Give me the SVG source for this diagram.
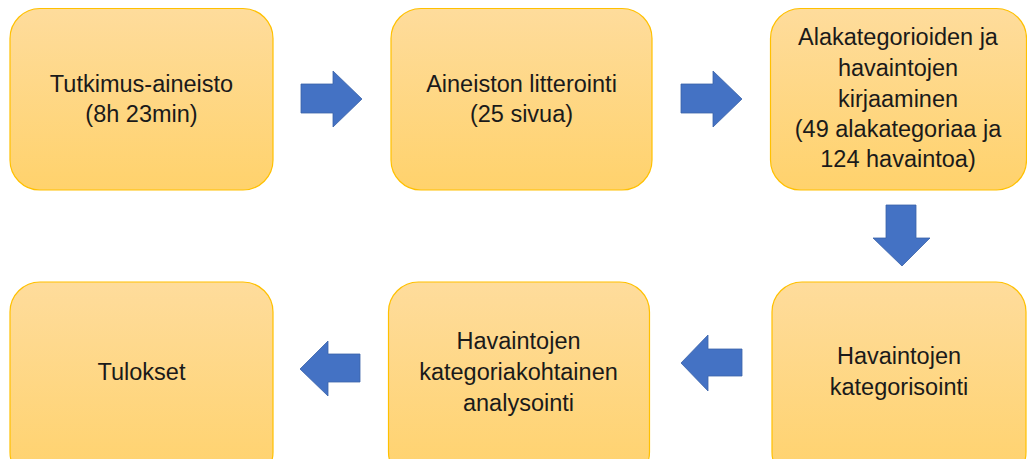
<svg xmlns="http://www.w3.org/2000/svg" width="1027" height="459" viewBox="0 0 1027 459">
  <defs>
    <linearGradient id="boxFill" x1="0" y1="0" x2="0" y2="1">
      <stop offset="0" stop-color="#FEDC9C"/>
      <stop offset="1" stop-color="#FFD26C"/>
    </linearGradient>
  </defs>
  <style>
    .box { fill: url(#boxFill); stroke: #FFC000; stroke-width: 1.2; }
    .label { font-family: "Liberation Sans", Arial, sans-serif; font-size: 23.5px; fill: #1a1a1a; text-anchor: middle; }
    .arrow { fill: #4472C4; stroke: #3A62A8; stroke-width: 0.8; }
  </style>

  <rect width="1027" height="459" fill="#ffffff"/>

  <g id="node-tutkimusaineisto">
    <rect class="box" x="10" y="8.5" width="263" height="181.5" rx="30"/>
    <text class="label" x="141.5" y="92">Tutkimus-aineisto</text>
    <text class="label" x="141.5" y="122">(8h 23min)</text>
  </g>

  <g id="node-litterointi">
    <rect class="box" x="391" y="8.5" width="261" height="181.5" rx="30"/>
    <text class="label" x="521.5" y="92">Aineiston litterointi</text>
    <text class="label" x="521.5" y="122">(25 sivua)</text>
  </g>

  <g id="node-kirjaaminen">
    <rect class="box" x="770.5" y="8.5" width="256" height="181.5" rx="30"/>
    <text class="label" x="898" y="45">Alakategorioiden ja</text>
    <text class="label" x="898" y="76">havaintojen</text>
    <text class="label" x="898" y="107">kirjaaminen</text>
    <text class="label" x="898" y="137">(49 alakategoriaa ja</text>
    <text class="label" x="898" y="167">124 havaintoa)</text>
  </g>

  <g id="node-kategorisointi">
    <rect class="box" x="772" y="282" width="254" height="200" rx="30"/>
    <text class="label" x="899" y="364">Havaintojen</text>
    <text class="label" x="899" y="395">kategorisointi</text>
  </g>

  <g id="node-analysointi">
    <rect class="box" x="388.5" y="282" width="261" height="200" rx="30"/>
    <text class="label" x="518.5" y="349">Havaintojen</text>
    <text class="label" x="518.5" y="380">kategoriakohtainen</text>
    <text class="label" x="518.5" y="411">analysointi</text>
  </g>

  <g id="node-tulokset">
    <rect class="box" x="10" y="282" width="263" height="200" rx="30"/>
    <text class="label" x="141.5" y="380">Tulokset</text>
  </g>

  <g id="connectors">
    <!-- right-pointing block arrows, top row -->
    <polygon class="arrow" points="301,84 333,84 333,71 362,99 333,127 333,113 301,113"/>
    <polygon class="arrow" points="681,84 713,84 713,71 742,99 713,127 713,113 681,113"/>
    <!-- downward block arrow -->
    <polygon class="arrow" points="886,205 916,205 916,238 930,238 902,266 873,238 886,238"/>
    <!-- left-pointing block arrows, bottom row -->
    <polygon class="arrow" points="742,349 708,349 708,335 681,363 708,391 708,376 742,376"/>
    <polygon class="arrow" points="360,354 328,354 328,341 300,369 328,396 328,382 360,382"/>
  </g>
</svg>
